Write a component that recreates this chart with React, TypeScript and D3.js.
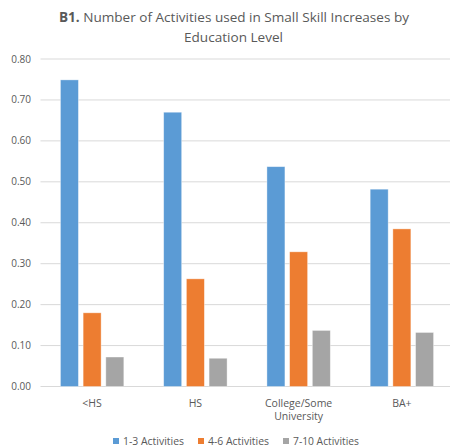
import React from "react";
import * as d3 from "d3";

const categories = ["<HS", "HS", "College/Some University", "BA+"];
const categoryLines = [["<HS"], ["HS"], ["College/Some", "University"], ["BA+"]];
const seriesNames = ["1-3 Activities", "4-6 Activities", "7-10 Activities"];
const series13 = [0.749, 0.67, 0.537, 0.482];
const series46 = [0.18, 0.263, 0.329, 0.385];
const series710 = [0.072, 0.069, 0.137, 0.132];
const colors = ["#5B9BD5", "#ED7D31", "#A5A5A5"];
const yTicks = [0, 0.1, 0.2, 0.3, 0.4, 0.5, 0.6, 0.7, 0.8];

const W = 450;
const H = 447;
const font = "'Open Sans', 'Noto Sans', sans-serif";
const textColor = "#595959";

export default function App() {
  const allSeries = [series13, series46, series710];
  const x = d3.scaleBand<string>().domain(categories).range([40.5, 453.5]);
  const y = d3.scaleLinear().domain([0, 0.8]).range([386.5, 59]);
  const barW = 18;
  const step = 22.7;

  const legendItems = [
    { name: seriesNames[0], sx: 113, tx: 123, tl: 61 },
    { name: seriesNames[1], sx: 198, tx: 208, tl: 61 },
    { name: seriesNames[2], sx: 283, tx: 293, tl: 66 },
  ];

  return (
    <svg width={W} height={H} style={{ position: "absolute", left: 0, top: 0, background: "#fff" }}>
      <rect x={0} y={0} width={W} height={H} fill="#fff" />
      <text x={234} y={22} textAnchor="middle" fontFamily={font} fontSize={13.5} fill={textColor} textLength={350} lengthAdjust="spacingAndGlyphs">
        <tspan fontWeight="bold">B1.</tspan> Number of Activities used in Small Skill Increases by
      </text>
      <text x={233.5} y={42} textAnchor="middle" fontFamily={font} fontSize={13.5} fill={textColor} textLength={99} lengthAdjust="spacingAndGlyphs">
        Education Level
      </text>
      {yTicks.map((t) => (
        <g key={t}>
          <line x1={40.5} x2={W} y1={y(t)} y2={y(t)} stroke="#D9D9D9" strokeWidth={1} />
          <text x={31} y={y(t)} dy="0.35em" textAnchor="end" fontFamily={font} fontSize={10} fill={textColor}>
            {t.toFixed(2)}
          </text>
        </g>
      ))}
      {categories.map((c, ci) => {
        const cx = (x(c) as number) + x.bandwidth() / 2;
        return (
          <g key={c}>
            {allSeries.map((s, si) => {
              const bx = cx + (si - 1) * step - barW / 2;
              return (
                <rect
                  key={si}
                  x={bx}
                  y={y(s[ci])}
                  width={barW}
                  height={y(0) - y(s[ci])}
                  fill={colors[si]}
                  stroke="#ffffff"
                  strokeOpacity={0.5}
                  strokeWidth={0.75}
                />
              );
            })}
            {categoryLines[ci].map((ln, li) => (
              <text key={li} x={cx} y={406.5 + li * 13} textAnchor="middle" fontFamily={font} fontSize={10.5} fill={textColor}>
                {ln}
              </text>
            ))}
          </g>
        );
      })}
      {legendItems.map((it, i) => (
        <g key={it.name}>
          <rect x={it.sx} y={438} width={6} height={6} fill={colors[i]} />
          <text x={it.tx} y={441} dy="0.35em" fontFamily={font} fontSize={10} fill={textColor} textLength={it.tl} lengthAdjust="spacingAndGlyphs">
            {it.name}
          </text>
        </g>
      ))}
    </svg>
  );
}
